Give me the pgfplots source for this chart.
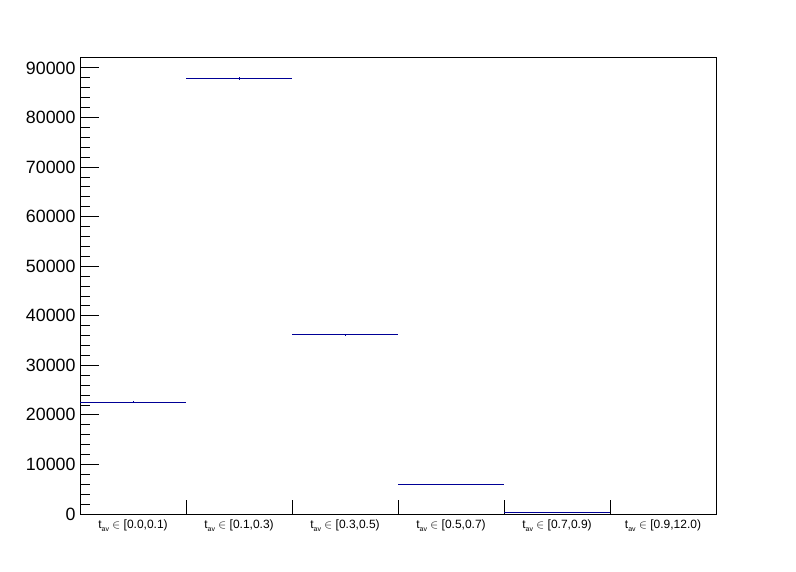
\documentclass[border=0pt]{standalone}
\usepackage{fontspec}
\setmainfont{Liberation Sans}
\usepackage{pgfplots}
\pgfplotsset{compat=1.18}
\definecolor{histblue}{RGB}{0,0,150}

\newcommand{\tav}[1]{t\raisebox{-0.55ex}{\fontsize{7bp}{8bp}\selectfont av} $\in$ #1}

\begin{document}
\begin{tikzpicture}
\useasboundingbox (0,0) rectangle (796bp,572bp);
\begin{axis}[
  at={(80bp,58bp)}, anchor=south west,
  scale only axis, width=636bp, height=457bp,
  xmin=0, xmax=6, ymin=0, ymax=92200,
  axis line style={line width=0.8pt},
  tick align=inside, xtick pos=bottom, ytick pos=left,
  ytick={0,10000,...,90000}, minor y tick num=4,
  scaled y ticks=false,
  yticklabel style={font=\fontsize{17.8bp}{20bp}\selectfont, xshift=-1bp,
    /pgf/number format/1000 sep={}, /pgf/number format/assume math mode=true},
  major tick length=19bp, minor tick length=10bp,
  y tick style={black, line width=0.8pt},
  xtick={0.5,1.5,2.5,3.5,4.5,5.5},
  xticklabels={\tav{[0.0,0.1)},\tav{[0.1,0.3)},\tav{[0.3,0.5)},\tav{[0.5,0.7)},\tav{[0.7,0.9)},\tav{[0.9,12.0)}},
  x tick style={draw=none},
  xticklabel style={font=\fontsize{12bp}{13bp}\selectfont, yshift=-2bp},
]
% bin separators
\pgfplotsinvokeforeach{1,2,3,4,5}{
  \draw[black, line width=0.8pt] (axis cs:#1,0) -- ++(0,14bp);
}
\addplot[draw=none, mark=none,
  error bars/.cd, x dir=both, y dir=both, x explicit, y explicit,
  error mark=none, error bar style={line width=0.9pt, draw=histblue}]
  coordinates {
    (0.5,22600) +- (0.5,150)
    (1.5,87950) +- (0.5,300)
    (2.5,36150) +- (0.5,190)
    (3.5,6050) +- (0.5,80)
    (4.5,330) +- (0.5,20)
  };
\end{axis}
\end{tikzpicture}
\end{document}
